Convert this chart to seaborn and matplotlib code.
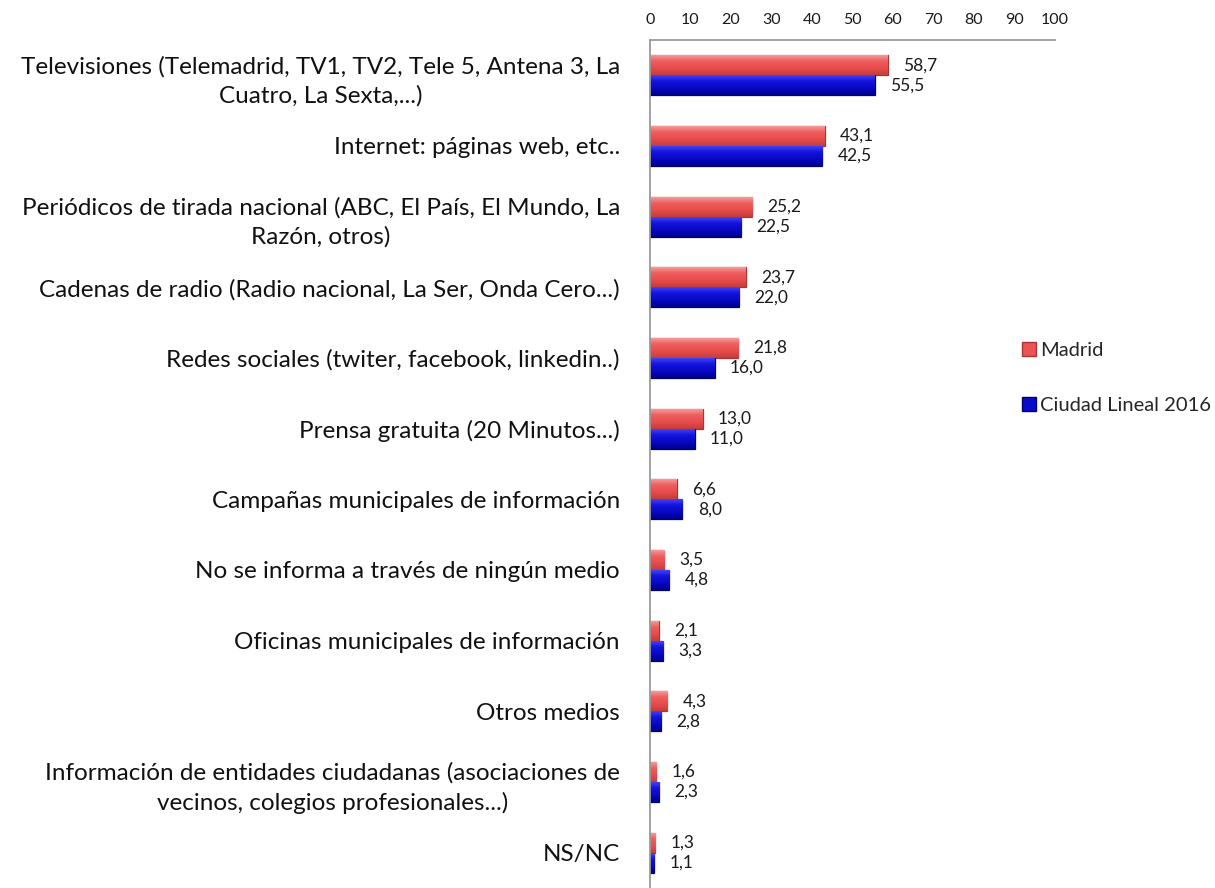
import matplotlib
matplotlib.use("Agg")
import matplotlib.pyplot as plt
from matplotlib.patches import Patch
from matplotlib.colors import LinearSegmentedColormap
import numpy as np
import seaborn as sns
import pandas as pd

categories = [
    "Televisiones (Telemadrid, TV1, TV2, Tele 5, Antena 3, La\nCuatro, La Sexta,...)",
    "Internet: páginas web, etc..",
    "Periódicos de tirada nacional (ABC, El País, El Mundo, La\nRazón, otros)",
    "Cadenas de radio (Radio nacional, La Ser, Onda Cero...)",
    "Redes sociales (twiter, facebook, linkedin..)",
    "Prensa gratuita (20 Minutos...)",
    "Campañas municipales de información",
    "No se informa a través de ningún medio",
    "Oficinas municipales de información",
    "Otros medios",
    "Información de entidades ciudadanas (asociaciones de\nvecinos, colegios profesionales...)",
    "NS/NC",
]
madrid = [58.7, 43.1, 25.2, 23.7, 21.8, 13.0, 6.6, 3.5, 2.1, 4.3, 1.6, 1.3]
ciudad_lineal = [55.5, 42.5, 22.5, 22.0, 16.0, 11.0, 8.0, 4.8, 3.3, 2.8, 2.3, 1.1]
series_names = ["Madrid", "Ciudad Lineal 2016"]
x_ticks = list(range(0, 101, 10))

df = pd.DataFrame({
    "Categoría": categories * 2,
    "Valor": madrid + ciudad_lineal,
    "Serie": [series_names[0]] * len(categories) + [series_names[1]] * len(categories),
})

sns.set_theme(style="white")
plt.rcParams["font.family"] = ["Lato", "DejaVu Sans"]

W, H = 1215, 888
fig = plt.figure(figsize=(W / 100, H / 100), dpi=100)
ax = fig.add_axes([650 / W, 0.0, (1055 - 650) / W, (H - 40) / H])

palette = {"Madrid": "#EB5454", "Ciudad Lineal 2016": "#0A0ACC"}
edges = {"Madrid": "#A83434", "Ciudad Lineal 2016": "#00006E"}
# bevel shading for each series: highlight at the top, shade at the bottom
shades = {
    "Madrid": ["#F8A3A3", "#EE5E5E", "#E84C4C", "#C43E3E"],
    "Ciudad Lineal 2016": ["#4A4AFF", "#1414DC", "#0808C4", "#00008C"],
}

sns.barplot(data=df, y="Categoría", x="Valor", hue="Serie", orient="h",
            palette=palette, width=0.57, ax=ax, legend=False, saturation=1)

grad = np.linspace(0, 1, 64).reshape(-1, 1)
for cont, name in zip(ax.containers, series_names):
    cmap = LinearSegmentedColormap.from_list(name, shades[name])
    for bar in cont:
        bar.set_edgecolor(edges[name])
        bar.set_linewidth(0.9)
        x0, y0 = bar.get_x(), bar.get_y()
        w, h = bar.get_width(), bar.get_height()
        img = ax.imshow(grad, cmap=cmap, aspect="auto", interpolation="bilinear",
                        extent=(x0, x0 + w, y0 + h, y0), origin="upper", zorder=bar.get_zorder())
        img.set_clip_path(bar)
    ax.bar_label(cont, labels=[f"{v:.1f}".replace(".", ",") for v in cont.datavalues],
                 padding=11, fontsize=12.5, color="#1a1a1a")

ax.set_xlim(0, 100)
ax.set_ylim(len(categories) - 0.5, -0.5)
ax.set_aspect("auto")
ax.xaxis.tick_top()
ax.set_xticks(x_ticks)
ax.tick_params(axis="x", length=0, pad=9.5, labelsize=11.5, colors="#1a1a1a")
ax.tick_params(axis="y", length=0, pad=21.6, labelsize=17.5, colors="#111111")
for lbl in ax.get_yticklabels():
    lbl.set_horizontalalignment("right")
    lbl.set_multialignment("center")
    lbl.set_linespacing(1.45)
ax.set_xlabel("")
ax.set_ylabel("")

for side in ["right", "bottom"]:
    ax.spines[side].set_visible(False)
for side in ["left", "top"]:
    ax.spines[side].set_color("#9a9a9a")
    ax.spines[side].set_linewidth(1.3)

handles = [Patch(facecolor=palette[n], edgecolor=edges[n], label=n) for n in series_names]
fig.legend(handles=handles, loc="center left", bbox_to_anchor=(1022 / W, 1 - 378 / H),
           frameon=False, fontsize=14.5, handlelength=0.7, handleheight=0.7,
           handletextpad=0.2, labelspacing=1.9, borderpad=0, borderaxespad=0)

fig.savefig("out.png", dpi=100)
